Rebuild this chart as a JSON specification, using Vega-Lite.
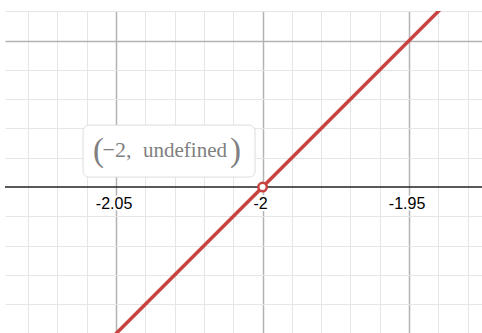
{
  "$schema": "https://vega.github.io/schema/vega-lite/v6.json",
  "width": 477,
  "height": 322,
  "autosize": "none",
  "padding": {"left": 5, "top": 11, "right": 0, "bottom": 0},
  "background": "white",
  "config": {"view": {"stroke": null}},
  "datasets": {
    "curve": [{"x": -2.1, "y": -0.1}, {"x": -1.9, "y": 0.1}],
    "xaxis": [{"x": -2.1, "x2": -1.9, "y": 0}],
    "ticks": [
      {"x": -2.05, "y": 0, "label": "-2.05"},
      {"x": -2, "y": 0, "label": "-2"},
      {"x": -1.95, "y": 0, "label": "-1.95"}
    ],
    "hole": [{"x": -2, "y": 0}]
  },
  "encoding": {
    "x": {
      "field": "x",
      "type": "quantitative",
      "scale": {"domain": [-2.0879, -1.9251], "nice": false, "zero": false},
      "axis": {
        "values": [-2.08, -2.07, -2.06, -2.05, -2.04, -2.03, -2.02, -2.01, -2, -1.99, -1.98, -1.97, -1.96, -1.95, -1.94, -1.93],
        "labels": false, "ticks": false, "domain": false, "title": null,
        "grid": true,
        "gridColor": {"condition": {"test": "abs(datum.value*20 - round(datum.value*20)) < 0.000001", "value": "#b3b3b3"}, "value": "#e6e6e6"},
        "gridWidth": {"condition": {"test": "abs(datum.value*20 - round(datum.value*20)) < 0.000001", "value": 1.5}, "value": 1}
      }
    },
    "y": {
      "field": "y",
      "type": "quantitative",
      "scale": {"domain": [-0.0498, 0.0601], "nice": false, "zero": false},
      "axis": {
        "values": [-0.04, -0.03, -0.02, -0.01, 0.01, 0.02, 0.03, 0.04, 0.05, 0.06],
        "labels": false, "ticks": false, "domain": false, "title": null,
        "grid": true,
        "gridColor": {"condition": {"test": "abs(datum.value*20 - round(datum.value*20)) < 0.000001", "value": "#b3b3b3"}, "value": "#e6e6e6"},
        "gridWidth": {"condition": {"test": "abs(datum.value*20 - round(datum.value*20)) < 0.000001", "value": 1.5}, "value": 1}
      }
    }
  },
  "layer": [
    {
      "data": {"name": "xaxis"},
      "mark": {"type": "rule", "color": "#222222", "strokeWidth": 1.5, "clip": true},
      "encoding": {"x2": {"field": "x2"}}
    },
    {
      "data": {"name": "ticks"},
      "mark": {"type": "text", "font": "Liberation Sans", "fontSize": 16, "align": "center", "baseline": "alphabetic", "dx": -2, "dy": 22, "stroke": "white", "strokeWidth": 4, "strokeJoin": "round", "fill": "white"},
      "encoding": {"text": {"field": "label"}}
    },
    {
      "data": {"name": "ticks"},
      "mark": {"type": "text", "font": "Liberation Sans", "fontSize": 16, "align": "center", "baseline": "alphabetic", "dx": -2, "dy": 22, "color": "#000000"},
      "encoding": {"text": {"field": "label"}}
    },
    {
      "data": {"name": "curve"},
      "mark": {"type": "line", "color": "#c74440", "strokeWidth": 3.5, "clip": true}
    },
    {
      "data": {"name": "hole"},
      "mark": {"type": "rect", "fill": "white", "stroke": "#dcdcdc", "strokeWidth": 1, "cornerRadius": 6, "xOffset": -179.5, "x2Offset": -7.5, "yOffset": -62, "y2Offset": -10},
      "encoding": {"x2": {"field": "x"}, "y2": {"field": "y"}}
    },
    {
      "data": {"name": "hole"},
      "mark": {"type": "text", "text": "(", "font": "Liberation Serif", "fontSize": 33, "align": "center", "baseline": "alphabetic", "dx": -164, "dy": -26.5, "color": "#808080"}
    },
    {
      "data": {"name": "hole"},
      "mark": {"type": "text", "text": "−2,", "font": "Liberation Serif", "fontSize": 22, "align": "left", "baseline": "alphabetic", "dx": -160, "dy": -30, "color": "#808080"}
    },
    {
      "data": {"name": "hole"},
      "mark": {"type": "text", "text": "undefined", "font": "Liberation Serif", "fontSize": 21, "align": "left", "baseline": "alphabetic", "dx": -119.5, "dy": -30, "color": "#808080"}
    },
    {
      "data": {"name": "hole"},
      "mark": {"type": "text", "text": ")", "font": "Liberation Serif", "fontSize": 33, "align": "center", "baseline": "alphabetic", "dx": -27, "dy": -26.5, "color": "#808080"}
    },
    {
      "data": {"name": "hole"},
      "mark": {"type": "point", "shape": "circle", "filled": true, "fill": "white", "stroke": "#c74440", "strokeWidth": 2.5, "size": 72, "opacity": 1}
    }
  ]
}
